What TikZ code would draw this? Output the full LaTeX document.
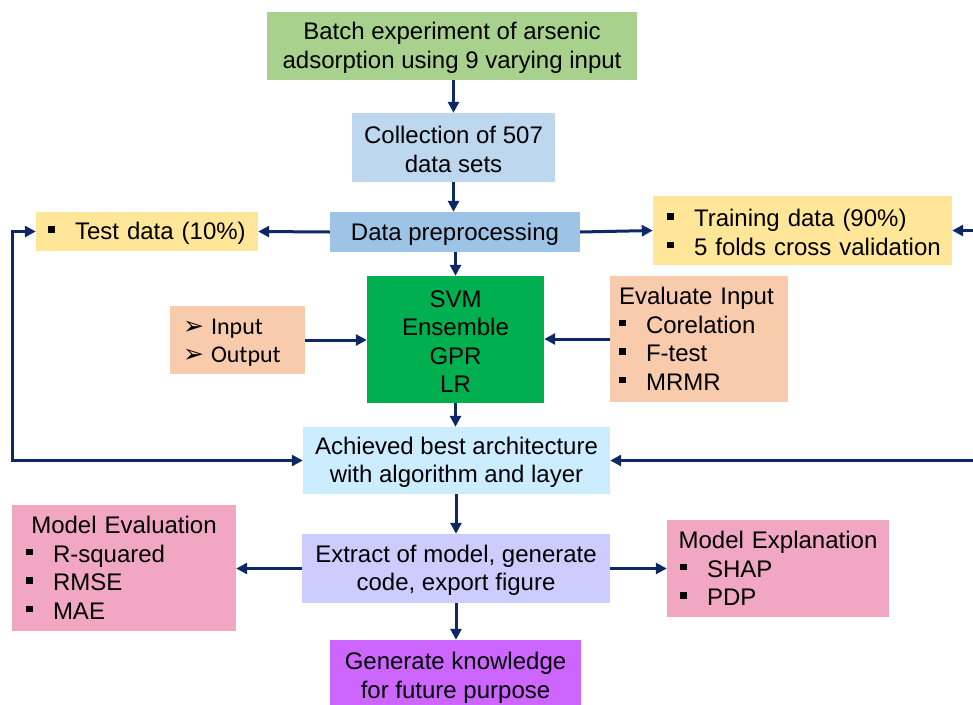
\documentclass[tikz,border=0pt]{standalone}
\usepackage{fontspec}
\setmainfont{Liberation Sans}
\newfontfamily\calibfont{Carlito}
\newfontfamily\symfont{DejaVu Sans}
\usetikzlibrary{arrows.meta}

\definecolor{flowblue}{RGB}{14,40,102}
\definecolor{batchgreen}{HTML}{A9D18E}
\definecolor{collblue}{HTML}{BDD7EE}
\definecolor{prepblue}{HTML}{9DC3E6}
\definecolor{softyellow}{HTML}{FFE699}
\definecolor{peach}{HTML}{F8CBAD}
\definecolor{modelgreen}{HTML}{00B050}
\definecolor{paleblue}{HTML}{CCECFF}
\definecolor{softpink}{HTML}{F1A7C1}
\definecolor{lavender}{HTML}{CCCCFF}
\definecolor{violet}{HTML}{CC66FF}

% square bullet and arrowhead bullet used in the lists
\newcommand{\sqitem}{\makebox[27pt][l]{\rule[7pt]{6.5pt}{6.5pt}}}
\newcommand{\arritem}{\makebox[28pt][l]{\symfont\fontsize{25}{25}\selectfont ➢}}
% one list line that never wraps
\newcommand{\li}[1]{\mbox{\sqitem #1}}
% a strut that pushes the first line down a little
\newcommand{\topgap}{\rule{0pt}{21pt}}

\tikzset{
  box/.style={inner sep=0pt, align=center, font=\fontsize{24}{28.5}\selectfont},
  listbox/.style={box, align=left, text width=#1},
  flow/.style={draw=flowblue, line width=3pt, -{Triangle[length=11pt,width=11pt]}},
  twoway/.style={draw=flowblue, line width=3pt,
    {Triangle[length=11pt,width=11pt]}-{Triangle[length=11pt,width=11pt]}},
}

\begin{document}
\begin{tikzpicture}[x=1pt, y=-1pt]
\useasboundingbox (0,0) rectangle (973,704);
\clip (0,0) rectangle (973,704);

% main column
\node[box, fill=batchgreen, minimum width=370pt, minimum height=68pt] (batch) at (452,46)
  {\topgap Batch experiment of arsenic\\adsorption using 9 varying input};
\node[box, fill=collblue, minimum width=203pt, minimum height=69pt] (coll) at (453.5,147.5)
  {\topgap Collection of 507\\data sets};
\node[box, fill=prepblue, minimum width=250pt, minimum height=40pt] (prep) at (455,232)
  {\topgap Data preprocessing};
\node[box, fill=modelgreen, minimum width=177pt, minimum height=127pt] (svm) at (455.5,339.5)
  {\topgap SVM\\Ensemble\\GPR\\LR};
\node[box, fill=paleblue, minimum width=307pt, minimum height=67pt] (ach) at (456.5,460.5)
  {\topgap Achieved best architecture\\with algorithm and layer};
\node[box, fill=lavender, minimum width=308pt, minimum height=69pt] (extract) at (456,568.5)
  {\topgap Extract of model, generate\\code, export figure};
\node[box, fill=violet, minimum width=251pt, minimum height=72pt] (gen) at (455.5,676)
  {\topgap Generate knowledge\\for future purpose};

% side boxes
\node[listbox=198pt, fill=softyellow, minimum width=222pt, minimum height=39pt] (test) at (147,231.5)
  {\topgap\li{Test data (10\%)}};
\node[listbox=271pt, fill=softyellow, minimum width=299pt, minimum height=69pt] (train) at (802.5,230.5)
  {\topgap\li{Training data (90\%)}\\\li{5 folds cross validation}};
\node[listbox=109pt, fill=peach, minimum width=135pt, minimum height=68pt,
      font=\calibfont\fontsize{24}{28.5}\selectfont] (io) at (237.5,340)
  {\topgap\arritem Input\\\arritem Output};
\node[listbox=160pt, fill=peach, minimum width=178pt, minimum height=126pt] (evalin) at (699,339)
  {Evaluate Input\\\li{Corelation}\\\li{F-test}\\\li{MRMR}};
\node[listbox=196pt, fill=softpink, minimum width=224pt, minimum height=126pt] (meval) at (124,568)
  {\makebox[196pt][c]{Model Evaluation}\\\li{R-squared}\\\li{RMSE}\\\li{MAE}};
\node[listbox=196pt, fill=softpink, minimum width=222pt, minimum height=97pt] (mexpl) at (778,568.5)
  {\makebox[196pt][c]{Model Explanation}\\\li{SHAP}\\\li{PDP}};

% loop turning points
\coordinate (lturn) at (12,0);
\coordinate (rturn) at (995,0);

% connectors
\draw[flow] (coll.north |- batch.south) -- (coll.north);
\draw[flow] (coll.south) -- (coll.south |- prep.north);
\draw[flow] (svm.north |- prep.south) -- (svm.north);
\draw[flow] (prep.west) -- (test.east);
\draw[flow] (prep.east) -- (train.west);
\draw[flow] (io.east) -- (io.east -| svm.west);
\draw[flow] (evalin.west) -- (evalin.west -| svm.east);
\draw[flow] (svm.south) -- (svm.south |- ach.north);
\draw[flow] (extract.north |- ach.south) -- (extract.north);
\draw[flow] (extract.west) -- (extract.west -| meval.east);
\draw[flow] (extract.east) -- (extract.east -| mexpl.west);
\draw[flow] (extract.south) -- (extract.south |- gen.north);
\draw[twoway] (test.west) -- (test.west -| lturn) |- (ach.west);
\draw[twoway] (train.east) -- (train.east -| rturn) |- (ach.east);
\end{tikzpicture}
\end{document}
